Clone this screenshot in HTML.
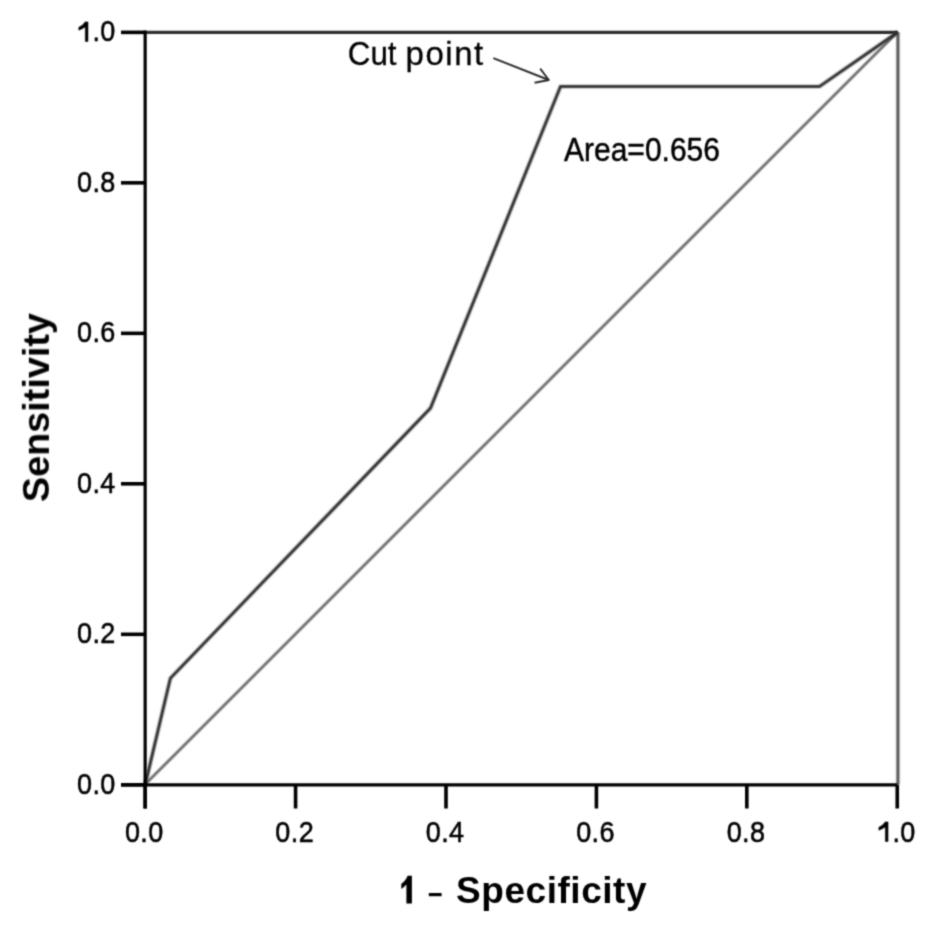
<!DOCTYPE html>
<html>
<head>
<meta charset="utf-8">
<style>
html,body{margin:0;padding:0;background:#fff;}
body{width:945px;height:932px;overflow:hidden;}
svg{display:block;}
text{font-family:"Liberation Sans", sans-serif;fill:#000;}
</style>
</head>
<body>
<svg width="945" height="932" viewBox="0 0 945 932">
  <defs>
    <filter id="fA" x="0" y="0" width="945" height="932" filterUnits="userSpaceOnUse"><feConvolveMatrix order="5" kernelMatrix="0.00003 0.00101 0.00331 0.00101 0.00003 0.00101 0.03529 0.11525 0.03529 0.00101 0.00331 0.11525 0.37636 0.11525 0.00331 0.00101 0.03529 0.11525 0.03529 0.00101 0.00003 0.00101 0.00331 0.00101 0.00003" divisor="1" edgeMode="none"/></filter>
    <filter id="fB" x="0" y="0" width="945" height="932" filterUnits="userSpaceOnUse"><feConvolveMatrix order="7" kernelMatrix="0.00000 0.00001 0.00010 0.00022 0.00010 0.00001 0.00000 0.00001 0.00048 0.00500 0.01093 0.00500 0.00048 0.00001 0.00010 0.00500 0.05213 0.11385 0.05213 0.00500 0.00010 0.00022 0.01093 0.11385 0.24868 0.11385 0.01093 0.00022 0.00010 0.00500 0.05213 0.11385 0.05213 0.00500 0.00010 0.00001 0.00048 0.00500 0.01093 0.00500 0.00048 0.00001 0.00000 0.00001 0.00010 0.00022 0.00010 0.00001 0.00000" divisor="1" edgeMode="none"/></filter>
    <filter id="fC" x="0" y="0" width="945" height="932" filterUnits="userSpaceOnUse"><feConvolveMatrix order="7" kernelMatrix="0.00000 0.00006 0.00041 0.00076 0.00041 0.00006 0.00000 0.00006 0.00141 0.00897 0.01664 0.00897 0.00141 0.00006 0.00041 0.00897 0.05718 0.10600 0.05718 0.00897 0.00041 0.00076 0.01664 0.10600 0.19651 0.10600 0.01664 0.00076 0.00041 0.00897 0.05718 0.10600 0.05718 0.00897 0.00041 0.00006 0.00141 0.00897 0.01664 0.00897 0.00141 0.00006 0.00000 0.00006 0.00041 0.00076 0.00041 0.00006 0.00000" divisor="1" edgeMode="none"/></filter>
  </defs>
  <rect width="945" height="932" fill="#fff"/>
  <g filter="url(#fB)">
    <line x1="897.9" y1="32.35" x2="897.9" y2="784.8" stroke="#585858" stroke-width="3.2"/>
    <line x1="145.15" y1="784.3" x2="897.5" y2="31.95" stroke="#6e6e6e" stroke-width="2.9"/>
  </g>
  <g filter="url(#fC)">
    <polyline points="145.15,784.8 170.4,678.2 430.5,408.2 560.5,86.5 819.5,86.5 897.5,32.35" fill="none" stroke="#2e2e2e" stroke-width="3.2" stroke-linejoin="miter"/>
  </g>
  <g filter="url(#fA)">
    <line x1="145" y1="32.35" x2="897.5" y2="32.35" stroke="#2d2d2d" stroke-width="3.4"/>
    <line x1="145.15" y1="30.6" x2="145.15" y2="808.5" stroke="#000" stroke-width="3.2"/>
    <line x1="121" y1="784.8" x2="897.5" y2="784.8" stroke="#000" stroke-width="3.2"/>
    <g stroke="#000" stroke-width="3.6">
      <line x1="121" y1="784.80" x2="145" y2="784.80"/>
      <line x1="121" y1="634.31" x2="145" y2="634.31"/>
      <line x1="121" y1="483.82" x2="145" y2="483.82"/>
      <line x1="121" y1="333.33" x2="145" y2="333.33"/>
      <line x1="121" y1="182.84" x2="145" y2="182.84"/>
      <line x1="121" y1="32.35" x2="145" y2="32.35"/>
      <line x1="145.15" y1="784.8" x2="145.15" y2="808.5"/>
      <line x1="295.57" y1="784.8" x2="295.57" y2="808.5"/>
      <line x1="445.99" y1="784.8" x2="445.99" y2="808.5"/>
      <line x1="596.41" y1="784.8" x2="596.41" y2="808.5"/>
      <line x1="746.83" y1="784.8" x2="746.83" y2="808.5"/>
      <line x1="897.25" y1="784.8" x2="897.25" y2="808.5"/>
    </g>
    <g font-size="27" stroke="#000" stroke-width="0.5" letter-spacing="0.4">
      <text transform="translate(77,793.90) scale(1,1.08)">0.0</text>
      <text transform="translate(77,643.41) scale(1,1.08)">0.2</text>
      <text transform="translate(77,492.92) scale(1,1.08)">0.4</text>
      <text transform="translate(77,342.43) scale(1,1.08)">0.6</text>
      <text transform="translate(77,191.94) scale(1,1.08)">0.8</text>
      <g transform="translate(77,41.45) scale(1,1.08)"><path d="M8.5,-18.1 L11.0,-18.1 L11.0,0 L8.3,0 L8.3,-13.4 Q5.2,-11.5 1.8,-10.4 L1.8,-13.1 Q6.3,-15.0 8.3,-18.3 Z"/><text x="15.41">.0</text></g>
      <text transform="translate(124.95,841.5) scale(1,1.08)">0.0</text>
      <text transform="translate(275.37,841.5) scale(1,1.08)">0.2</text>
      <text transform="translate(425.79,841.5) scale(1,1.08)">0.4</text>
      <text transform="translate(576.21,841.5) scale(1,1.08)">0.6</text>
      <text transform="translate(726.63,841.5) scale(1,1.08)">0.8</text>
      <g transform="translate(877.05,841.5) scale(1,1.08)"><path d="M8.5,-18.1 L11.0,-18.1 L11.0,0 L8.3,0 L8.3,-13.4 Q5.2,-11.5 1.8,-10.4 L1.8,-13.1 Q6.3,-15.0 8.3,-18.3 Z"/><text x="15.41">.0</text></g>
    </g>
    <path d="M407.6,875.8 L411.9,875.8 L411.9,903.5 L406.4,903.5 L406.4,884.6 Q404.2,887.4 401.3,888.9 L401.3,883.8 Q405.6,881.2 407.6,875.8 Z" fill="#000"/>
    <rect x="428.8" y="893" width="12.8" height="3.2" fill="#000"/>
    <text x="456" y="903.2" font-size="37" font-weight="bold" letter-spacing="0.55">Specificity</text>
    <text transform="translate(48.9,407.6) rotate(-90)" font-size="37.8" font-weight="bold" text-anchor="middle">Sensitivity</text>
    <g font-size="33" stroke="#000" stroke-width="0.3"><text transform="translate(347.8,65) scale(0.95,1)">Cut</text><text x="405.6" y="65" letter-spacing="1.5">point</text></g>
    <g fill="none" stroke="#2b2b2b" stroke-width="1.9">
      <line x1="493.3" y1="58.1" x2="548.8" y2="80.0"/>
      <polyline points="540.2,68.6 548.8,80.0 534.6,82.7" stroke-linejoin="round"/>
    </g>
    <text transform="translate(564,160.5) scale(1,1.08)" font-size="30" stroke="#000" stroke-width="0.45">Area=0.656</text>
  </g>
</svg>
</body>
</html>
